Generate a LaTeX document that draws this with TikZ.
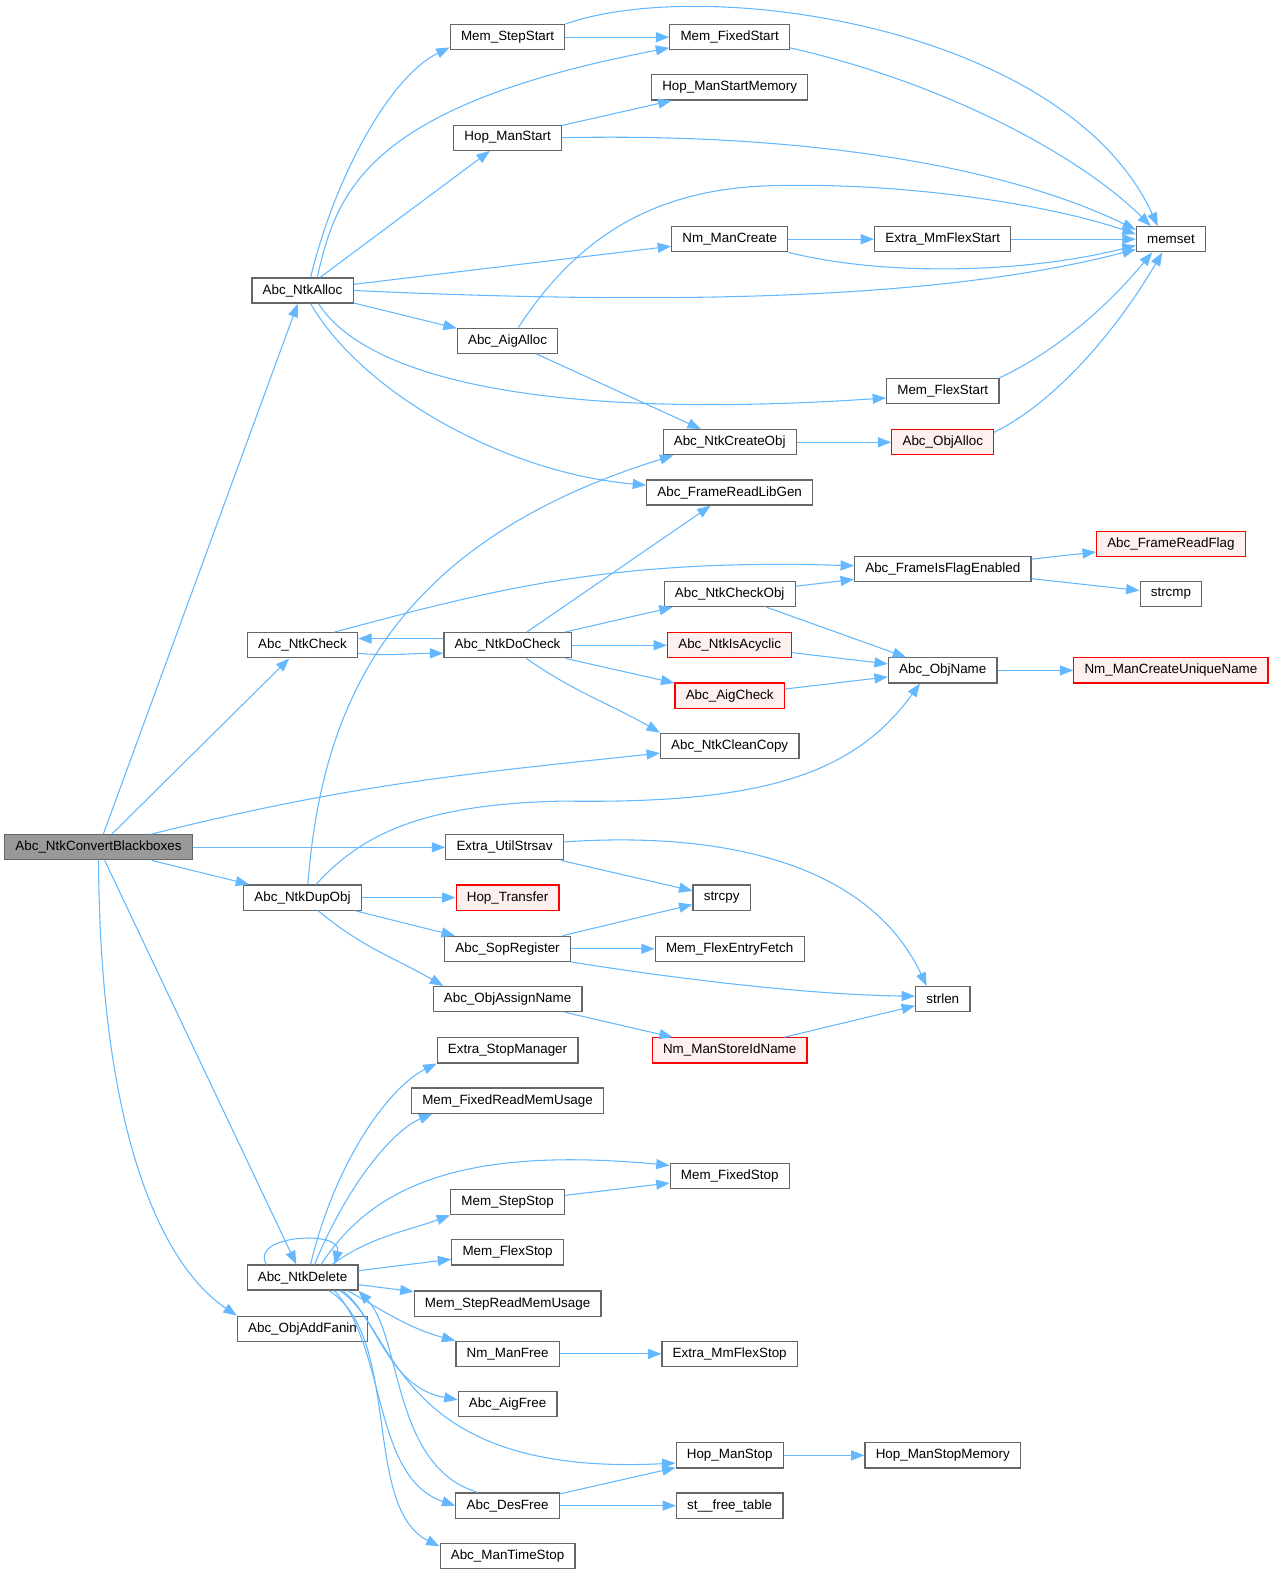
\documentclass[tikz,border=0pt]{standalone}
\usepackage{fontspec}
\setmainfont{Liberation Sans}
\usetikzlibrary{arrows.meta}
\definecolor{edgeblue}{HTML}{63B8FF}
\definecolor{boxgray}{HTML}{666666}
\definecolor{rootfill}{HTML}{999999}
\definecolor{redfill}{HTML}{FFF0F0}

\begin{document}
\begin{tikzpicture}[x=0.75pt,y=0.75pt]
	\tikzstyle{func} = [rectangle,draw=boxgray,fill=white,line width=0.9pt,minimum height=18.75pt,inner xsep=8pt,inner ysep=0pt,font=\fontsize{10}{12}\selectfont]
	\tikzstyle{root} = [func,fill=rootfill]
	\tikzstyle{trunc} = [func,draw=red,fill=redfill]
	\tikzstyle{edge} = [draw=edgeblue,line width=0.8pt,-{Triangle[length=10pt,width=7.5pt]}]
	\useasboundingbox (0,0) rectangle (1266,-1568);
	% caller
	\node[root] (ncb) at (98,-843) {Abc\_NtkConvertBlackboxes};
	% rank 2
	\node[func] (ntkalloc) at (301,-289) {Abc\_NtkAlloc};
	\node[func] (ntkcheck) at (301,-642) {Abc\_NtkCheck};
	\node[func] (ntkdupobj) at (301,-893) {Abc\_NtkDupObj};
	\node[func] (ntkdelete) at (301,-1271) {Abc\_NtkDelete};
	\node[func] (objaddfanin) at (301,-1322) {Abc\_ObjAddFanin};
	% rank 3
	\node[func] (memstepstart) at (505,-37) {Mem\_StepStart};
	\node[func] (hopmanstart) at (505,-137) {Hop\_ManStart};
	\node[func] (aigalloc) at (505,-339) {Abc\_AigAlloc};
	\node[func] (ntkdocheck) at (505,-642) {Abc\_NtkDoCheck};
	\node[func] (utilstrsav) at (502,-843) {Extra\_UtilStrsav};
	\node[trunc] (hoptransfer) at (505,-893) {Hop\_Transfer};
	\node[func] (sopregister) at (505,-944) {Abc\_SopRegister};
	\node[func] (objassignname) at (505,-994) {Abc\_ObjAssignName};
	\node[func] (stopmanager) at (505,-1045) {Extra\_StopManager};
	\node[func] (fixedreadmem) at (505,-1095) {Mem\_FixedReadMemUsage};
	\node[func] (memstepstop) at (505,-1196) {Mem\_StepStop};
	\node[func] (memflexstop) at (505,-1246) {Mem\_FlexStop};
	\node[func] (stepreadmem) at (505,-1297) {Mem\_StepReadMemUsage};
	\node[func] (nmmanfree) at (505,-1347) {Nm\_ManFree};
	\node[func] (aigfree) at (505,-1397) {Abc\_AigFree};
	\node[func] (desfree) at (505,-1498) {Abc\_DesFree};
	\node[func] (mantimestop) at (505,-1548) {Abc\_ManTimeStop};
	% rank 4
	\node[func] (memfixedstart) at (726,-37) {Mem\_FixedStart};
	\node[func] (hopstartmemory) at (726,-87) {Hop\_ManStartMemory};
	\node[func] (nmmancreate) at (726,-238) {Nm\_ManCreate};
	\node[func] (ntkcreateobj) at (726,-440) {Abc\_NtkCreateObj};
	\node[func] (readlibgen) at (726,-490) {Abc\_FrameReadLibGen};
	\node[func] (ntkcheckobj) at (726,-591) {Abc\_NtkCheckObj};
	\node[trunc] (ntkisacyclic) at (726,-642) {Abc\_NtkIsAcyclic};
	\node[trunc] (aigcheck) at (726,-692) {Abc\_AigCheck};
	\node[func] (ntkcleancopy) at (726,-742) {Abc\_NtkCleanCopy};
	\node[func] (strcpy) at (718,-893) {strcpy};
	\node[func] (flexentryfetch) at (726,-944) {Mem\_FlexEntryFetch};
	\node[trunc] (nmstoreidname) at (726,-1045) {Nm\_ManStoreIdName};
	\node[func] (memfixedstop) at (726,-1170) {Mem\_FixedStop};
	\node[func] (mmflexstop) at (726,-1347) {Extra\_MmFlexStop};
	\node[func] (hopmanstop) at (726,-1448) {Hop\_ManStop};
	\node[func] (stfreetable) at (726,-1498) {st\_\_free\_table};
	% rank 5
	\node[func] (mmflexstart) at (938,-238) {Extra\_MmFlexStart};
	\node[func] (memflexstart) at (938,-389) {Mem\_FlexStart};
	\node[trunc] (objalloc) at (938,-440) {Abc\_ObjAlloc};
	\node[func] (isflagenabled) at (938,-566) {Abc\_FrameIsFlagEnabled};
	\node[func] (objname) at (938,-667) {Abc\_ObjName};
	\node[func] (strlen) at (938,-994) {strlen};
	\node[func] (hopstopmemory) at (938,-1448) {Hop\_ManStopMemory};
	% rank 6
	\node[func] (memset) at (1165,-238) {memset};
	\node[trunc] (readflag) at (1165,-541) {Abc\_FrameReadFlag};
	\node[func] (strcmp) at (1165,-591) {strcmp};
	\node[trunc] (uniquename) at (1165,-667) {Nm\_ManCreateUniqueName};
	% straight calls
	\foreach \a/\b in {ncb/ntkalloc, ncb/ntkcheck, ncb/utilstrsav, ncb/ntkdupobj, ncb/ntkdelete,
		ntkalloc/hopmanstart, ntkalloc/nmmancreate, ntkalloc/aigalloc,
		memstepstart/memfixedstart, hopmanstart/hopstartmemory, aigalloc/ntkcreateobj,
		nmmancreate/mmflexstart, mmflexstart/memset, ntkcreateobj/objalloc,
		ntkdocheck/readlibgen, ntkdocheck/ntkcheckobj, ntkdocheck/ntkisacyclic, ntkdocheck/aigcheck,
		ntkcheckobj/isflagenabled, ntkcheckobj/objname, isflagenabled/readflag, isflagenabled/strcmp,
		ntkisacyclic/objname, aigcheck/objname, objname/uniquename,
		ntkdupobj/hoptransfer, ntkdupobj/sopregister, utilstrsav/strcpy, sopregister/strcpy,
		sopregister/flexentryfetch, objassignname/nmstoreidname, nmstoreidname/strlen,
		ntkdelete/memflexstop, ntkdelete/stepreadmem, memstepstop/memfixedstop,
		nmmanfree/mmflexstop, hopmanstop/hopstopmemory, desfree/hopmanstop, desfree/stfreetable}
		\draw[edge] (\a) -- (\b);
	% curved calls from the caller
	\draw[edge] (ncb) to[out=14,in=186] (ntkcleancopy);
	\draw[edge] (ncb.south) .. controls (100,-1150) and (170,-1265) .. (objaddfanin.north west);
	% Abc_NtkAlloc
	\draw[edge] ([xshift=6pt]ntkalloc.north) .. controls (335,-170) and (390,-75) .. (memstepstart.190);
	\draw[edge] ([xshift=11pt]ntkalloc.north) .. controls (335,-190) and (365,-105) .. (memfixedstart.190);
	\draw[edge] (ntkalloc.east) .. controls (700,-305) and (950,-295) .. (memset.196);
	\draw[edge] ([xshift=12pt]ntkalloc.south) .. controls (360,-370) and (520,-420) .. (memflexstart.187);
	\draw[edge] ([xshift=6pt]ntkalloc.south) .. controls (360,-390) and (500,-470) .. (readlibgen.175);
	% into memset
	\draw[edge] (memstepstart.north east) .. controls (700,25) and (1060,-25) .. (memset.135);
	\draw[edge] (memfixedstart.-10) .. controls (950,-85) and (1080,-160) .. (memset.147);
	\draw[edge] (hopmanstart.east) .. controls (800,-132) and (1000,-165) .. (memset.165);
	\draw[edge] ([xshift=8pt]aigalloc.north) .. controls (575,-235) and (650,-190) .. (760,-185)
		.. controls (900,-180) and (1050,-205) .. (memset.172);
	\draw[edge] (nmmancreate.south east) .. controls (880,-275) and (1020,-272) .. (memset.190);
	\draw[edge] (memflexstart.north east) .. controls (1060,-345) and (1110,-295) .. (memset.215);
	\draw[edge] (objalloc.11) .. controls (1050,-400) and (1110,-330) .. (memset.237);
	% checking
	\draw[edge] ([yshift=-6pt]ntkcheck.east) to[out=-5,in=180] ([yshift=-6pt]ntkdocheck.west);
	\draw[edge] ([yshift=5pt]ntkdocheck.west) -- ([yshift=5pt]ntkcheck.east);
	\draw[edge] ([xshift=-18pt]ntkcheck.north east) .. controls (480,-590) and (600,-555) .. (isflagenabled.178);
	\draw[edge] (ntkdocheck) to[out=-35,in=150] (ntkcleancopy.north west);
	% Abc_NtkDupObj
	\draw[edge] ([xshift=4pt]ntkdupobj.north) .. controls (320,-700) and (390,-540) .. ([xshift=8pt]ntkcreateobj.south west);
	\draw[edge] ([xshift=10pt]ntkdupobj.north) .. controls (360,-830) and (420,-800) .. (560,-797)
		.. controls (760,-800) and (850,-770) .. (objname.-150);
	\draw[edge] (ntkdupobj) to[out=-40,in=150] ([xshift=8pt]objassignname.north west);
	\draw[edge] ([yshift=4pt]utilstrsav.east) .. controls (700,-828) and (860,-850) .. ([xshift=-12pt]strlen.north);
	\draw[edge] (sopregister.south east) .. controls (700,-978) and (820,-990) .. (strlen.174);
	% Abc_NtkDelete
	\draw[edge] ([xshift=-27pt]ntkdelete.north) .. controls ([xshift=-40pt,yshift=22pt]ntkdelete.north)
		and ([xshift=30pt,yshift=26pt]ntkdelete.north) .. ([xshift=24pt]ntkdelete.north);
	\draw[edge] ([xshift=6pt]ntkdelete.north) .. controls (335,-1150) and (390,-1080) .. (stopmanager.south west);
	\draw[edge] ([xshift=9pt]ntkdelete.north) .. controls (345,-1180) and (390,-1125) .. ([xshift=16pt]fixedreadmem.south west);
	\draw[edge] ([xshift=14pt]ntkdelete.north) .. controls (370,-1180) and (460,-1140) .. (memfixedstop.170);
	\draw[edge] ([xshift=22pt]ntkdelete.north) to[out=35,in=200] (memstepstop.south west);
	\draw[edge] ([xshift=-8pt]ntkdelete.south east) to[out=-30,in=165] (nmmanfree.north west);
	\draw[edge] ([xshift=-12pt]ntkdelete.south east) .. controls (375,-1310) and (385,-1380) .. (aigfree.175);
	\draw[edge] ([xshift=-14pt]ntkdelete.south east) .. controls (395,-1320) and (390,-1470) .. (hopmanstop.188);
	\draw[edge] ([xshift=-18pt]ntkdelete.south east) .. controls (385,-1340) and (370,-1470) .. (desfree.west);
	\draw[edge] ([xshift=-22pt]ntkdelete.south east) .. controls (400,-1330) and (360,-1500) .. (mantimestop.172);
	\draw[edge] ([xshift=-22pt]desfree.north) .. controls (390,-1460) and (400,-1330) .. (ntkdelete.south east);
\end{tikzpicture}
\end{document}
